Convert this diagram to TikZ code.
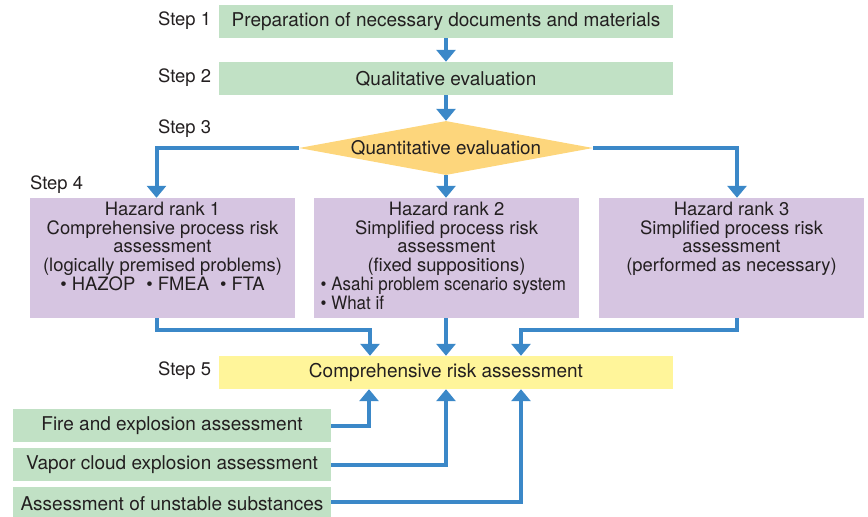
\documentclass[tikz,border=0pt]{standalone}
\usepackage{fontspec}
\setmainfont{TeX Gyre Heros}
\newfontfamily\narrowheros[FakeStretch=0.92]{TeX Gyre Heros}
\usetikzlibrary{arrows.meta,shapes.geometric,calc}
\definecolor{boxgreen}{HTML}{C1E1C5}
\definecolor{boxpurple}{HTML}{D6C5E1}
\definecolor{diayellow}{HTML}{FDD67C}
\definecolor{boxyellow}{HTML}{FFF59A}
\definecolor{flowblue}{HTML}{3B88C8}
\definecolor{inkdark}{HTML}{231F20}
\tikzset{
  greenbox/.style={fill=boxgreen, inner sep=0pt, minimum height=33pt, text=inkdark,
    font=\fontsize{19}{20}\selectfont},
  rankbox/.style={fill=boxpurple, inner sep=0pt, minimum width=265pt, minimum height=120pt},
  ranktext/.style={inner sep=0pt, text=inkdark, align=center,
    font=\fontsize{18.4}{18.75}\selectfont},
  steplabel/.style={inner sep=0pt, anchor=west, text=inkdark,
    font=\fontsize{18.4}{20}\selectfont},
  flow/.style={draw=flowblue, line width=4pt, -{Triangle[width=19pt,length=12pt]}},
}
\begin{document}
\begin{tikzpicture}[x=1pt,y=-1pt]
\useasboundingbox (0,0) rectangle (868,517);
% step 1 and 2
\node[greenbox, minimum width=454pt] (s1) at (446,21.5) {Preparation of necessary documents and materials};
\node[greenbox, minimum width=454pt] (s2) at (446,78.5) {Qualitative evaluation};
% diamond
\node[diamond, aspect=5.44, fill=diayellow, inner sep=0pt, minimum width=294pt, minimum height=54pt,
  text=inkdark, font=\fontsize{18.8}{20}\selectfont] (d) at (446,148) {Quantitative evaluation};
% rank boxes
\node[rankbox] (r1) at (162.5,258) {};
\node[rankbox] (r2) at (446.5,258) {};
\node[rankbox] (r3) at (731.5,258) {};
\node[ranktext, anchor=north] (r1t) at ([yshift=-4pt]r1.north)
  {Hazard rank 1\\Comprehensive process risk\\assessment\\(logically premised problems)\\%
   • HAZOP\hspace{0.6em}• FMEA\hspace{0.6em}• FTA};
\node[ranktext, anchor=north] (r2t) at ([yshift=-4pt]r2.north)
  {Hazard rank 2\\Simplified process risk\\assessment\\(fixed suppositions)};
\node[ranktext, align=left, anchor=north west, font=\narrowheros\fontsize{18.4}{18.75}\selectfont]
  (r2b) at ([yshift=-79pt]r2.north west -| 320.5,0)
  {• Asahi problem scenario system\\• What if};
\node[ranktext, anchor=north] (r3t) at ([yshift=-4pt]r3.north)
  {Hazard rank 3\\Simplified process risk\\assessment\\(performed as necessary)};
% step 5
\node[greenbox, fill=boxyellow, minimum width=454pt] (s5) at (446,372.5) {Comprehensive risk assessment};
% bottom assessments
\node[greenbox, minimum width=318pt] (fa) at (172,425.5) {Fire and explosion assessment};
\node[greenbox, minimum width=318pt] (va) at (172,464.5) {Vapor cloud explosion assessment};
\node[greenbox, minimum width=318pt] (ua) at (172,503.5) {Assessment of unstable substances};
% step labels
\node[steplabel] (l1) at (158,21) {Step 1};
\node[steplabel] (l2) at (158,78) {Step 2};
\node[steplabel] (l3) at (158,129) {Step 3};
\node[steplabel] (l4) at (30,185) {Step 4};
\node[steplabel] (l5) at (158,371) {Step 5};
% connectors
\draw[flow] (s1.south) -- (s2.north);
\draw[flow] (s2.south) -- (d.north);
\draw[flow] (d.west) -| ([xshift=-6pt]r1.north);
\draw[flow] (d.south) -- (d.south |- r2.north);
\draw[flow] (d.east) -| ([xshift=5.5pt]r3.north);
\draw[flow] ([xshift=-6pt]r1.south) -- ++(0pt,-12pt) -| ([xshift=-76pt]s5.north);
\draw[flow] (r2.south -| s5.north) -- (s5.north);
\draw[flow] ([xshift=5.5pt]r3.south) -- ++(0pt,-12pt) -| ([xshift=75pt]s5.north);
\draw[flow] (fa.east) -| ([xshift=-77pt]s5.south);
\draw[flow] (va.east) -| (s5.south);
\draw[flow] ([yshift=1.5pt]ua.east) -| ([xshift=75pt]s5.south);
\end{tikzpicture}
\end{document}
